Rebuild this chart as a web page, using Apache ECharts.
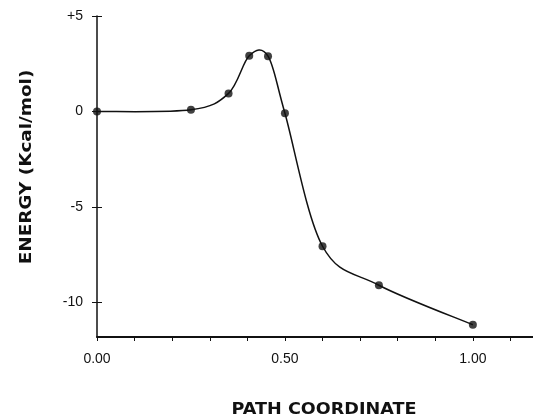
<!DOCTYPE html>
<html>
<head>
<meta charset="utf-8">
<script src="https://cdn.jsdelivr.net/npm/echarts@6/dist/echarts.min.js"></script>
<style>
html,body{margin:0;padding:0;background:#fff;}
#chart{width:533px;height:418px;}
</style>
</head>
<body>
<div id="chart"></div>
<script>
// Data
const pathCoord = [0.00, 0.25, 0.35, 0.405, 0.455, 0.50, 0.60, 0.75, 1.00];
const energy    = [0.00, 0.09, 0.95, 2.92, 2.90, -0.09, -7.05, -9.09, -11.16];
const yTickValues = [-10, -5, 0, 5];
const xLabelValues = [0, 0.5, 1.0];
const xTickValues = [0, 0.1, 0.2, 0.3, 0.4, 0.5, 0.6, 0.7, 0.8, 0.9, 1.0, 1.1];
const xTitle = 'PATH COORDINATE';
const yTitle = 'ENERGY (Kcal/mol)';

const seriesData = pathCoord.map((x, i) => [x, energy[i]]);

const chart = echarts.init(document.getElementById('chart'), null, {renderer: 'canvas'});
const labelFont = {color: '#111', fontFamily: 'Liberation Sans, Arial, sans-serif', fontSize: 14};
const titleFont = 'bold 16px "DejaVu Sans", sans-serif';

// smooth curve (Catmull-Rom through the data points, converted by the axes)
function renderCurve(params, api) {
  if (params.dataIndex !== 0) return null;
  const pts = seriesData.map(d => api.coord(d));
  const n = pts.length;
  let d = 'M' + pts[0][0] + ' ' + pts[0][1];
  for (let i = 0; i < n - 1; i++) {
    const p0 = pts[Math.max(i - 1, 0)];
    const p1 = pts[i];
    const p2 = pts[i + 1];
    const p3 = pts[Math.min(i + 2, n - 1)];
    const c1x = p1[0] + (p2[0] - p0[0]) / 6;
    const c1y = p1[1] + (p2[1] - p0[1]) / 6;
    const c2x = p2[0] - (p3[0] - p1[0]) / 6;
    const c2y = p2[1] - (p3[1] - p1[1]) / 6;
    d += ' C' + c1x + ' ' + c1y + ' ' + c2x + ' ' + c2y + ' ' + p2[0] + ' ' + p2[1];
  }
  return {
    type: 'path',
    shape: {pathData: d},
    style: {stroke: '#111', lineWidth: 1.5, fill: null}
  };
}

chart.setOption({
  animation: false,
  backgroundColor: '#fff',
  grid: {left: 97, right: 0, top: 16, bottom: 81, containLabel: false},
  graphic: [{
    type: 'text', x: 324, y: 410, scaleX: 1.1,
    style: {text: xTitle, font: titleFont, fill: '#111', align: 'center', verticalAlign: 'middle'}
  }, {
    type: 'text', x: 27, y: 167, rotation: Math.PI / 2, scaleX: 1.15,
    style: {text: yTitle, font: titleFont, fill: '#111', align: 'center', verticalAlign: 'middle'}
  }],
  xAxis: {
    type: 'value', min: 0, max: 1.16,
    axisLine: {show: true, onZero: false, lineStyle: {color: '#111', width: 2}},
    axisTick: {show: true, length: 4, lineStyle: {color: '#111', width: 1}, customValues: xTickValues},
    axisLabel: {show: true, margin: 15, ...labelFont, customValues: xLabelValues,
      formatter: v => Number(v).toFixed(2)},
    splitLine: {show: false}
  },
  yAxis: [{
    type: 'value', min: -11.8, max: 5,
    axisLine: {show: true, onZero: false, lineStyle: {color: '#111', width: 1.5}},
    axisTick: {show: true, length: 5, lineStyle: {color: '#111', width: 1}, customValues: yTickValues},
    axisLabel: {show: true, margin: 14, ...labelFont, customValues: yTickValues,
      formatter: v => (v > 0 ? '+' + v : String(v))},
    splitLine: {show: false}
  }, {
    type: 'value', min: -11.8, max: 5, position: 'left',
    axisLine: {show: false, onZero: false},
    axisTick: {show: true, inside: true, length: 5, lineStyle: {color: '#111', width: 1}, customValues: yTickValues},
    axisLabel: {show: false},
    splitLine: {show: false}
  }],
  series: [{
    type: 'custom',
    renderItem: renderCurve,
    data: seriesData,
    encode: {x: 0, y: 1},
    silent: true,
    z: 2
  }, {
    type: 'scatter',
    data: seriesData,
    symbol: 'circle',
    symbolSize: 8,
    itemStyle: {color: '#111'},
    z: 3
  }]
});
</script>
</body>
</html>
